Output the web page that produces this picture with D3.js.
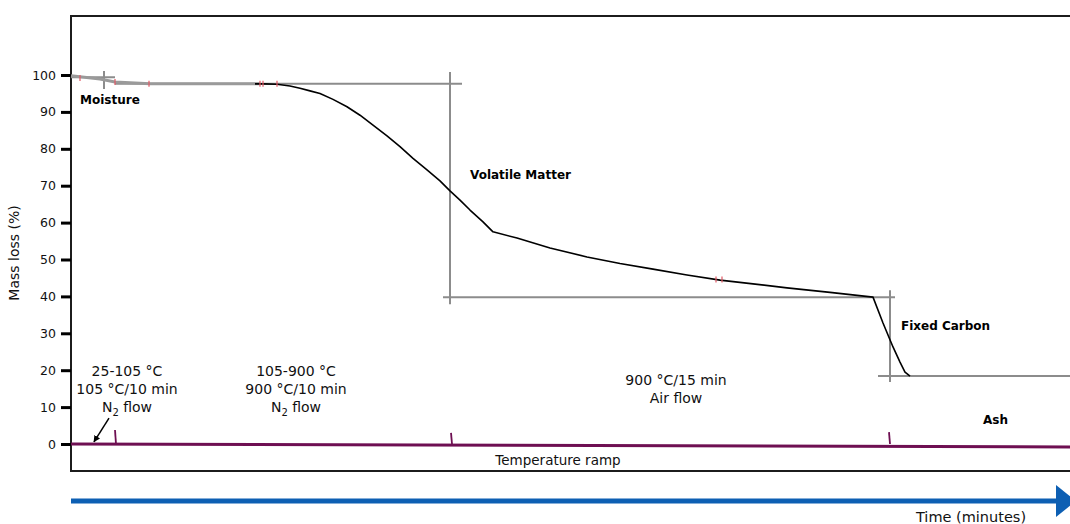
<!DOCTYPE html>
<html>
<head>
<meta charset="utf-8">
<script src="https://cdn.jsdelivr.net/npm/d3@7"></script>
<style>
  html, body { margin: 0; padding: 0; background: #fff; }
  svg { display: block; font-family: "DejaVu Sans", Verdana, sans-serif; }
</style>
</head>
<body>
<div id="tga-chart"></div>
<script>
// TGA proximate analysis sketch: mass loss vs time

// y axis tick values
const yTicks = [0, 10, 20, 30, 40, 50, 60, 70, 80, 90, 100];

// main (black) mass curve: time (min) and mass (%)
const curveTime = [18.4, 19.2, 20.6, 21.9, 22.9, 23.9, 24.9, 26.2, 27.6, 28.9, 30.2, 31.6, 32.9, 34.2, 35.6, 36.9, 37.9, 38.9, 39.9, 41.2, 42.2,
  44.6, 47.9, 51.6, 54.9, 58.2, 61.6, 64.9, 68.2, 71.6, 75.9, 80.2, 81.2, 82.2, 82.9, 83.4, 83.9];
const curveMass = [97.6, 97.6, 97.5, 97.0, 96.4, 95.7, 95.0, 93.4, 91.4, 89.1, 86.4, 83.5, 80.6, 77.4, 74.3, 71.3, 68.6, 66.1, 63.4, 60.2, 57.5,
  55.8, 53.1, 50.7, 48.9, 47.4, 45.8, 44.4, 43.4, 42.3, 41.1, 39.8, 32.8, 26.3, 22.2, 19.5, 18.4];

// grey drying section before the main curve
const dryTime = [0, 2.9, 4.4, 7.9, 18.9];
const dryMass = [99.8, 98.9, 98.1, 97.6, 97.6];

// grey ash plateau after burn-off
const ashTime = [83.9, 100];
const ashMass = [18.4, 18.4];

// step construction lines (horizontal levels, vertical cuts)
const levelLines = [
  { m: 99.4, t0: 0, t1: 4.4 },
  { m: 97.6, t0: 4.4, t1: 39.1 },
  { m: 39.8, t0: 37.2, t1: 82.4 },
  { m: 18.4, t0: 80.7, t1: 100 }
];
const stepLines = [
  { t: 3.3, m0: 96.2, m1: 101.1 },
  { t: 37.9, m0: 37.9, m1: 100.8 },
  { t: 81.9, m0: 16.8, m1: 41.7 }
];

// small red markers along the trace
const redMarkTime = [0.9, 4.4, 7.8, 18.9, 19.2, 20.6, 64.5, 65.1];
const redMarkMass = [99.2, 98.1, 97.6, 97.6, 97.6, 97.6, 44.6, 44.6];

// temperature ramp line and its segment ticks
const rampTime = [0, 100];
const rampMass = [0, -0.8];
const rampTickTime = [4.4, 38.0, 81.8];
const rampTickTop = [3.8, 3.0, 3.2];

// phase names
const phaseNames = ["Moisture", "Volatile Matter", "Fixed Carbon", "Ash"];
const phaseTime = [0.9, 39.9, 83.0, 91.2];
const phaseMass = [92.1, 71.8, 30.9, 5.4];

// furnace conditions per stage
const stageLines = [
  ["25-105 °C", "105 °C/10 min", "N2 flow"],
  ["105-900 °C", "900 °C/10 min", "N2 flow"],
  ["900 °C/15 min", "Air flow"]
];
const stageTime = [5.6, 22.5, 60.5];
const stageMass = [18.4, 18.4, 16.0];

// arrow from first stage label to the ramp start
const arrowFrom = [3.8, 7.0];
const arrowTo = [2.3, 0.6];

const width = 1070;
const height = 524;
const plot = { left: 71, top: 16, bottom: 471, right: 1071 };

const svg = d3.select("#tga-chart")
  .append("svg")
  .attr("width", width)
  .attr("height", height);

const defs = svg.append("defs");
defs.append("marker")
  .attr("id", "arrowhead")
  .attr("viewBox", "0 0 10 10")
  .attr("refX", 9)
  .attr("refY", 5)
  .attr("markerWidth", 4.5)
  .attr("markerHeight", 4.5)
  .attr("orient", "auto")
  .append("path")
  .attr("d", "M0,0 L10,5 L0,10 Z")
  .attr("fill", "#000");

const x = d3.scaleLinear().domain([0, 100]).range([plot.left, plot.right]);
const y = d3.scaleLinear().domain([0, 100]).range([444, 75]);

// frame (right side runs off the picture)
svg.append("rect")
  .attr("x", plot.left)
  .attr("y", plot.top)
  .attr("width", 1100)
  .attr("height", plot.bottom - plot.top)
  .attr("fill", "none")
  .attr("stroke", "#1c1c1c")
  .attr("stroke-width", 2);

// y axis
const yAxis = d3.axisLeft(y).tickValues(yTicks).tickSize(10).tickPadding(5);
const yG = svg.append("g")
  .attr("transform", `translate(${plot.left},0)`)
  .call(yAxis);
yG.select(".domain").remove();
yG.selectAll(".tick line").attr("stroke", "#000").attr("stroke-width", 3);
yG.selectAll(".tick text")
  .attr("fill", "#111")
  .style("font-size", "12.5px")
  .style("font-family", "DejaVu Sans, sans-serif");

svg.append("text")
  .attr("transform", "translate(19,253) rotate(-90)")
  .attr("text-anchor", "middle")
  .style("font-size", "14px")
  .attr("fill", "#111")
  .text("Mass loss (%)");

const line = d3.line()
  .x(d => x(d[0]))
  .y(d => y(d[1]));

// construction lines
const guides = svg.append("g")
  .attr("stroke", "#8c8c8c")
  .attr("stroke-width", 2)
  .attr("fill", "none");

guides.selectAll(".level")
  .data(levelLines)
  .join("line")
  .attr("class", "level")
  .attr("x1", d => x(d.t0))
  .attr("x2", d => x(d.t1))
  .attr("y1", d => y(d.m))
  .attr("y2", d => y(d.m));

guides.selectAll(".step")
  .data(stepLines)
  .join("line")
  .attr("class", "step")
  .attr("x1", d => x(d.t))
  .attr("x2", d => x(d.t))
  .attr("y1", d => y(d.m0))
  .attr("y2", d => y(d.m1));

// grey parts of the trace
svg.append("path")
  .datum(d3.zip(dryTime, dryMass))
  .attr("d", line)
  .attr("fill", "none")
  .attr("stroke", "#9a9a9a")
  .attr("stroke-width", 3);

svg.append("path")
  .datum(d3.zip(ashTime, ashMass))
  .attr("d", line)
  .attr("fill", "none")
  .attr("stroke", "#8c8c8c")
  .attr("stroke-width", 2);

// main black trace
svg.append("path")
  .datum(d3.zip(curveTime, curveMass))
  .attr("d", line)
  .attr("fill", "none")
  .attr("stroke", "#000")
  .attr("stroke-width", 1.6)
  .attr("stroke-linejoin", "round");

// red markers
svg.selectAll(".red-mark")
  .data(d3.zip(redMarkTime, redMarkMass))
  .join("line")
  .attr("class", "red-mark")
  .attr("x1", d => x(d[0]))
  .attr("x2", d => x(d[0]))
  .attr("y1", d => y(d[1]) - 3)
  .attr("y2", d => y(d[1]) + 3)
  .attr("stroke", "#e25a66")
  .attr("stroke-width", 1.5)
  .attr("opacity", 0.8);

// temperature ramp
svg.append("path")
  .datum(d3.zip(rampTime, rampMass))
  .attr("d", line)
  .attr("fill", "none")
  .attr("stroke", "#6e0f52")
  .attr("stroke-width", 3);

svg.selectAll(".ramp-tick")
  .data(d3.zip(rampTickTime, rampTickTop))
  .join("line")
  .attr("class", "ramp-tick")
  .attr("x1", d => x(d[0]))
  .attr("x2", d => x(d[0]) + 1)
  .attr("y1", d => y(d[1]))
  .attr("y2", y(0))
  .attr("stroke", "#6e0f52")
  .attr("stroke-width", 1.8);

svg.append("text")
  .attr("x", 558)
  .attr("y", 465)
  .attr("text-anchor", "middle")
  .style("font-size", "13.5px")
  .attr("fill", "#111")
  .text("Temperature ramp");

// phase names
svg.selectAll(".phase")
  .data(phaseNames)
  .join("text")
  .attr("class", "phase")
  .attr("x", (d, i) => x(phaseTime[i]))
  .attr("y", (d, i) => y(phaseMass[i]))
  .style("font-size", "12px")
  .style("font-weight", "bold")
  .attr("fill", "#000")
  .text(d => d);

// stage conditions, with N2 subscripts
stageLines.forEach((lines, i) => {
  lines.forEach((txt, j) => {
    const t = svg.append("text")
      .attr("x", x(stageTime[i]))
      .attr("y", y(stageMass[i]) + j * 18)
      .attr("text-anchor", "middle")
      .style("font-size", "14px")
      .attr("fill", "#111");
    if (txt.startsWith("N2")) {
      t.append("tspan").text("N");
      t.append("tspan").attr("dy", 4).style("font-size", "10px").text("2");
      t.append("tspan").attr("dy", -4).text(txt.slice(2));
    } else {
      t.text(txt);
    }
  });
});

svg.append("line")
  .attr("x1", x(arrowFrom[0]))
  .attr("y1", y(arrowFrom[1]))
  .attr("x2", x(arrowTo[0]))
  .attr("y2", y(arrowTo[1]))
  .attr("stroke", "#000")
  .attr("stroke-width", 1.5)
  .attr("marker-end", "url(#arrowhead)");

// time arrow underneath
svg.append("line")
  .attr("x1", plot.left)
  .attr("x2", 1057)
  .attr("y1", 501)
  .attr("y2", 501)
  .attr("stroke", "#0d5fb3")
  .attr("stroke-width", 5);

svg.append("path")
  .attr("d", "M1056,485 L1076,501 L1056,517 Z")
  .attr("fill", "#0d5fb3");

svg.append("text")
  .attr("x", 971)
  .attr("y", 522)
  .attr("text-anchor", "middle")
  .style("font-size", "14.5px")
  .attr("fill", "#111")
  .text("Time (minutes)");
</script>
</body>
</html>
